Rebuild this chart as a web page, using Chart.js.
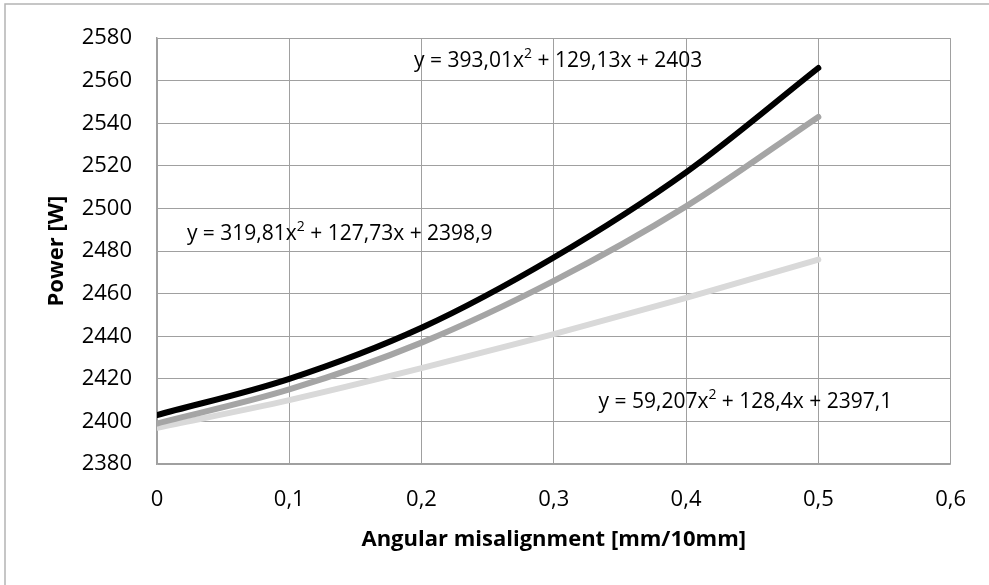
<!DOCTYPE html>
<html>
<head>
<meta charset="utf-8">
<script src="https://cdn.jsdelivr.net/npm/chart.js@4.4.1/dist/chart.umd.min.js"></script>
<style>
  body { margin: 0; background: #fff; }
  canvas { display: block; }
</style>
</head>
<body>
<canvas id="chart" width="989" height="585"></canvas>
<script>
'use strict';

// readings
const xValues = [0, 0.1, 0.2, 0.3, 0.4, 0.5];
const powerBlack = [2403, 2420, 2444, 2477, 2517, 2566];
const powerGray = [2399, 2415, 2437, 2466, 2501, 2543];
const powerLight = [2397, 2410, 2425, 2441, 2458, 2476];
const yTicks = [2380, 2400, 2420, 2440, 2460, 2480, 2500, 2520, 2540, 2560, 2580];
const xTicks = [0, 0.1, 0.2, 0.3, 0.4, 0.5, 0.6];

// trendline labels: [before superscript, superscript, after]
const eqBlack = ['y = 393,01x', '2', ' + 129,13x + 2403'];
const eqGray = ['y = 319,81x', '2', ' + 127,73x + 2398,9'];
const eqLight = ['y = 59,207x', '2', ' + 128,4x + 2397,1'];

const FONT = '"Open Sans", "Liberation Sans", sans-serif';

function pts(ys) {
    return xValues.map((x, i) => ({ x: x, y: ys[i] }));
}

function fmt(v) {
    if (v === 0) return '0';
    return v.toFixed(1).replace('.', ',');
}

const labels = [
    { parts: eqBlack, x: 0.1944, y: 2569.3 },
    { parts: eqGray, x: 0.0226, y: 2487.9 },
    { parts: eqLight, x: 0.3338, y: 2409 }
];

const extras = {
    id: 'extras',
    beforeDraw(chart) {
        const ctx = chart.ctx;
        ctx.save();
        ctx.fillStyle = '#fff';
        ctx.fillRect(0, 0, chart.width, chart.height);
        ctx.strokeStyle = '#b4b4b4';
        ctx.lineWidth = 1.5;
        ctx.strokeRect(5, 4, 1000, 620);
        ctx.restore();
    },
    afterDatasetsDraw(chart) {
        const ctx = chart.ctx;
        const xs = chart.scales.x, ys = chart.scales.y;
        ctx.save();
        ctx.fillStyle = '#000';
        ctx.textBaseline = 'middle';
        ctx.textAlign = 'left';
        labels.forEach(l => {
            let px = xs.getPixelForValue(l.x);
            const py = ys.getPixelForValue(l.y);
            ctx.font = '21px ' + FONT;
            ctx.fillText(l.parts[0], px, py);
            px += ctx.measureText(l.parts[0]).width;
            ctx.font = '14px ' + FONT;
            ctx.fillText(l.parts[1], px, py - 7);
            px += ctx.measureText(l.parts[1]).width;
            ctx.font = '21px ' + FONT;
            ctx.fillText(l.parts[2], px, py);
        });
        ctx.restore();
    }
};

const lineStyle = {
    borderWidth: 6,
    borderCapStyle: 'round',
    pointRadius: 0,
    fill: false,
    cubicInterpolationMode: 'monotone'
};

let ctx = document.getElementById('chart').getContext('2d');
let chart = new Chart(ctx, {
    type: 'scatter',
    data: {
        datasets: [
            Object.assign({ label: 'black', data: pts(powerBlack), borderColor: '#000000', showLine: true }, lineStyle),
            Object.assign({ label: 'gray', data: pts(powerGray), borderColor: '#a5a5a5', showLine: true }, lineStyle),
            Object.assign({ label: 'light', data: pts(powerLight), borderColor: '#d9d9d9', showLine: true }, lineStyle)
        ]
    },
    options: {
        responsive: false,
        animation: false,
        layout: { padding: { top: 34, right: 36, left: 0, bottom: 0 } },
        plugins: {
            legend: { display: false },
            tooltip: { enabled: false }
        },
        scales: {
            x: {
                type: 'linear',
                min: xTicks[0],
                max: xTicks[xTicks.length - 1],
                afterFit: s => { s.height = 121; },
                afterBuildTicks: s => { s.ticks = xTicks.map(v => ({ value: v })); },
                grid: { color: '#a0a0a0', lineWidth: 1, drawTicks: false },
                border: { color: '#a0a0a0', width: 1.5 },
                ticks: {
                    padding: 23,
                    color: '#000',
                    font: { family: FONT, size: 22 },
                    callback: v => fmt(v),
                    maxRotation: 0
                },
                title: {
                    display: true,
                    text: 'Angular misalignment [mm/10mm]',
                    color: '#000',
                    font: { family: FONT, size: 22, weight: 'bold' },
                    padding: { top: 0, bottom: 32 }
                }
            },
            y: {
                type: 'linear',
                min: yTicks[0],
                max: yTicks[yTicks.length - 1],
                afterFit: s => { s.width = 157; },
                afterBuildTicks: s => { s.ticks = yTicks.map(v => ({ value: v })); },
                grid: { color: '#a0a0a0', lineWidth: 1, drawTicks: false },
                border: { color: '#a0a0a0', width: 1.5 },
                ticks: {
                    padding: 25,
                    color: '#000',
                    font: { family: FONT, size: 22 },
                    callback: v => String(v)
                },
                title: {
                    display: true,
                    text: 'Power [W]',
                    color: '#000',
                    font: { family: FONT, size: 22, weight: 'bold' },
                    padding: { top: 44, bottom: 0 }
                }
            }
        }
    },
    plugins: [extras]
});
</script>
</body>
</html>
